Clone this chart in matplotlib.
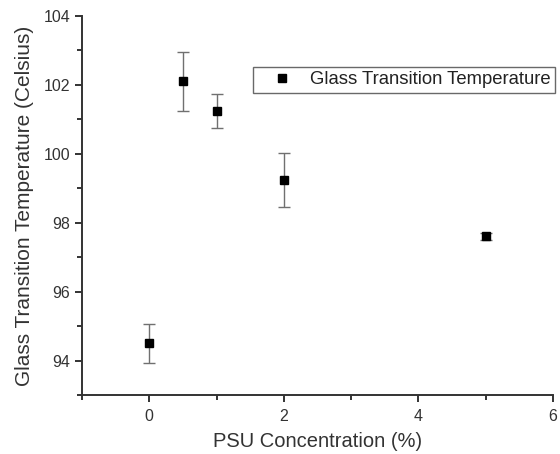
import matplotlib
matplotlib.use("Agg")
import matplotlib.pyplot as plt
from matplotlib.ticker import MultipleLocator

# PSU loading (%) vs glass transition temperature
psu_conc = [0, 0.5, 1, 2, 5]
tg_mean = [94.5, 102.1, 101.25, 99.25, 97.6]
tg_err = [0.56, 0.85, 0.49, 0.78, 0.1]

plt.rcParams['font.family'] = ['Liberation Sans', 'DejaVu Sans']

fig = plt.figure(figsize=(5.6, 4.54), dpi=100)
ax = fig.add_axes([0.1464, 0.13, 0.8411, 0.8348])

# error bars first, then the square markers on top
ax.errorbar(psu_conc, tg_mean, yerr=tg_err, fmt='none', ecolor='#707070',
            elinewidth=1, capsize=4, capthick=1)
ax.plot(psu_conc, tg_mean, 's', color='black', markersize=6,
        label='Glass Transition Temperature')

ax.set_xlim(-1, 6)
ax.set_ylim(93, 104)
ax.xaxis.set_major_locator(MultipleLocator(2))
ax.xaxis.set_minor_locator(MultipleLocator(1))
ax.yaxis.set_major_locator(MultipleLocator(2))
ax.yaxis.set_minor_locator(MultipleLocator(1))

for side in ['top', 'right']:
    ax.spines[side].set_visible(False)
for side in ['left', 'bottom']:
    ax.spines[side].set_color('#333333')
    ax.spines[side].set_linewidth(1.4)
ax.tick_params(which='major', direction='out', length=5, width=1.4,
               color='#333333', labelsize=11.5, labelcolor='#333333')
ax.tick_params(axis='x', which='major', pad=5)
ax.tick_params(axis='y', which='major', pad=3.5)
ax.tick_params(which='minor', direction='out', length=3.5, width=1.4,
               color='#333333')

ax.set_xlabel('PSU Concentration (%)', fontsize=14.5, color='#333333',
              labelpad=6)
ax.set_ylabel('Glass Transition Temperature (Celsius)', fontsize=15,
              color='#333333', labelpad=7)

leg = ax.legend(loc='upper right', bbox_to_anchor=(1.004, 0.866),
                borderaxespad=0, fontsize=13.3, frameon=True, fancybox=False,
                borderpad=0.25, handletextpad=0.2, handlelength=2.6)
leg.get_frame().set_edgecolor('#444444')
leg.get_frame().set_linewidth(1.0)
for t in leg.get_texts():
    t.set_color('#222222')

fig.savefig('out.png', dpi=100)
